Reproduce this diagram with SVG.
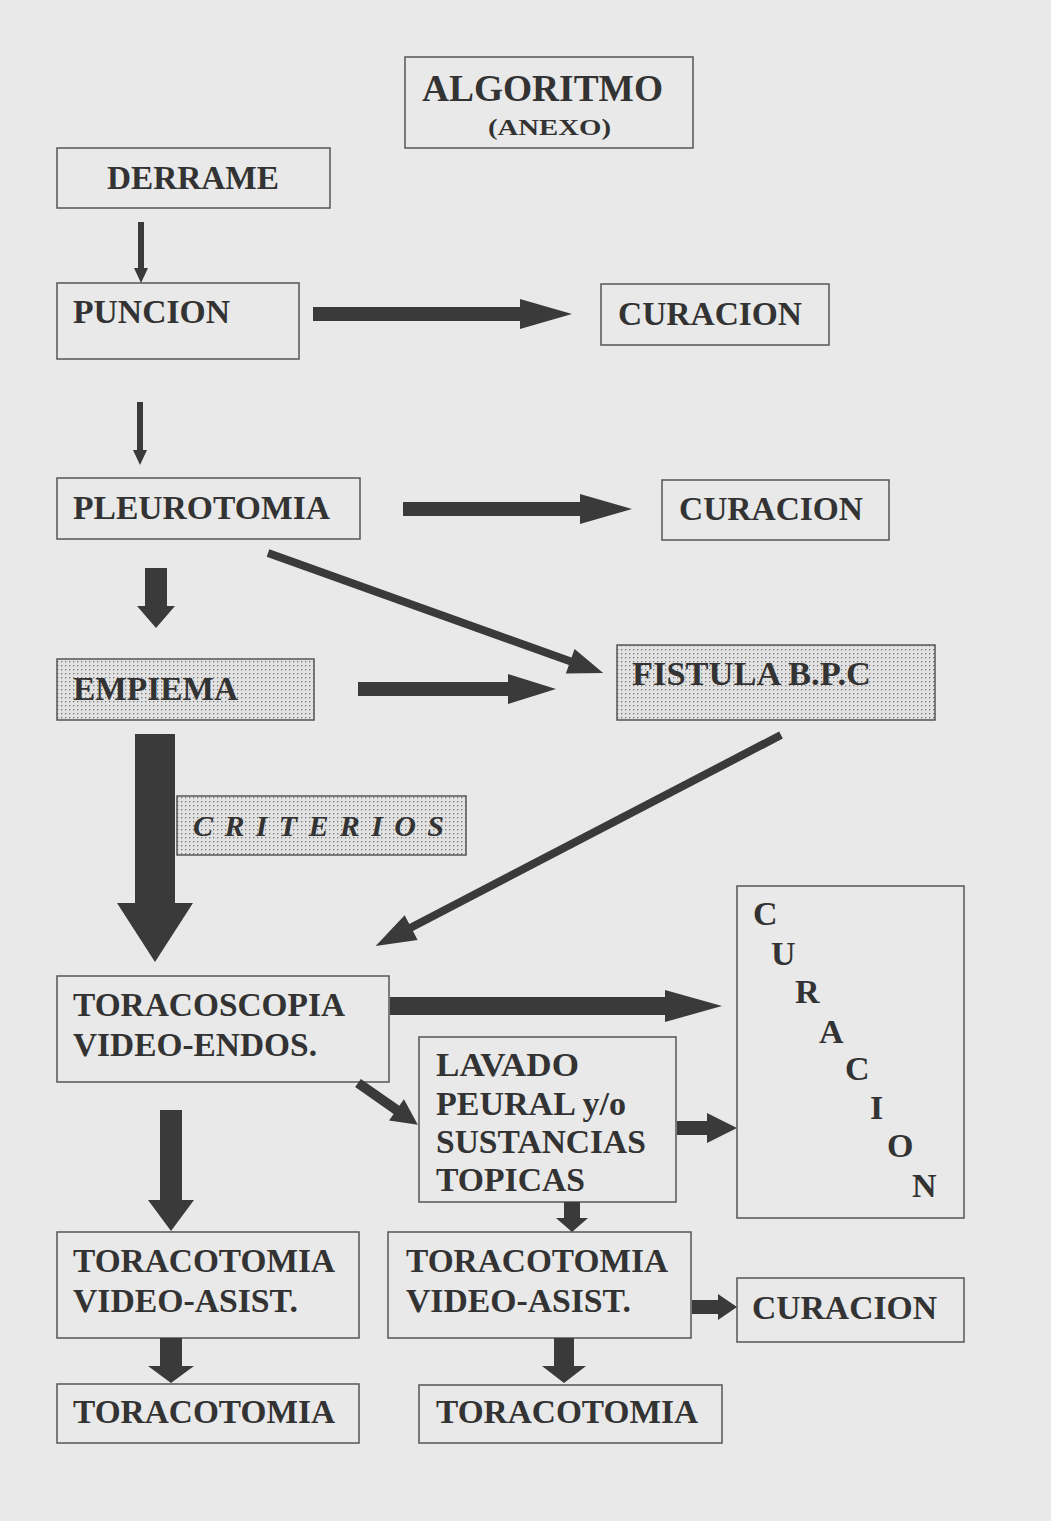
<svg xmlns="http://www.w3.org/2000/svg" width="1051" height="1521" viewBox="0 0 1051 1521">
<defs>
<pattern id="dots" width="4" height="4" patternUnits="userSpaceOnUse">
<rect width="4" height="4" fill="#e2e2e2"/>
<rect x="1" y="1" width="1.3" height="1.3" fill="#777"/>
</pattern>
<style>
.box{fill:none;stroke:#555;stroke-width:1.5}
.dot{fill:url(#dots);stroke:#555;stroke-width:1.5}
.t{font-family:"Liberation Serif","Times New Roman",serif;font-weight:bold;font-size:34px;fill:#333}
.ar{fill:#3a3a3a}
</style>
</defs>
<rect width="1051" height="1521" fill="#e9e9e9"/>

<g id="titulo"><rect class="box" x="405" y="57" width="288" height="91"/>
<text class="t" x="422" y="101" style="font-size:38px" textLength="241" lengthAdjust="spacingAndGlyphs">ALGORITMO</text>
<text class="t" x="488" y="135" style="font-size:24px" textLength="123" lengthAdjust="spacingAndGlyphs">(ANEXO)</text></g>

<g id="derrame"><rect class="box" x="57" y="148" width="273" height="60"/>
<text class="t" x="107" y="189" textLength="172" lengthAdjust="spacingAndGlyphs">DERRAME</text></g>

<g id="puncion"><rect class="box" x="57" y="283" width="242" height="76"/>
<text class="t" x="73" y="323" textLength="157" lengthAdjust="spacingAndGlyphs">PUNCION</text></g>

<g id="curacion1"><rect class="box" x="601" y="284" width="228" height="61"/>
<text class="t" x="618" y="325" textLength="184" lengthAdjust="spacingAndGlyphs">CURACION</text></g>

<g id="pleurotomia"><rect class="box" x="57" y="478" width="303" height="61"/>
<text class="t" x="73" y="519" textLength="257" lengthAdjust="spacingAndGlyphs">PLEUROTOMIA</text></g>

<g id="curacion2"><rect class="box" x="662" y="480" width="227" height="60"/>
<text class="t" x="679" y="520" textLength="184" lengthAdjust="spacingAndGlyphs">CURACION</text></g>

<g id="empiema"><rect class="dot" x="57" y="659" width="257" height="61"/>
<text class="t" x="73" y="700" textLength="165" lengthAdjust="spacingAndGlyphs">EMPIEMA</text></g>

<g id="fistula"><rect class="dot" x="617" y="645" width="318" height="75"/>
<text class="t" x="632" y="685" textLength="239" lengthAdjust="spacingAndGlyphs">FISTULA B.P.C</text></g>

<g id="criterios"><rect class="dot" x="177" y="796" width="289" height="59"/>
<text class="t" x="193" y="836" style="font-style:italic;font-size:30px" textLength="251" lengthAdjust="spacing">CRITERIOS</text></g>

<g id="curacion3"><rect class="box" x="737" y="886" width="227" height="332"/>
<text class="t" x="753" y="925">C</text>
<text class="t" x="771" y="965">U</text>
<text class="t" x="795" y="1003">R</text>
<text class="t" x="819" y="1043">A</text>
<text class="t" x="845" y="1080">C</text>
<text class="t" x="870" y="1119">I</text>
<text class="t" x="887" y="1157">O</text>
<text class="t" x="912" y="1197">N</text></g>

<g id="toracoscopia"><rect class="box" x="57" y="976" width="332" height="106"/>
<text class="t" x="73" y="1016" textLength="272" lengthAdjust="spacingAndGlyphs">TORACOSCOPIA</text>
<text class="t" x="73" y="1056" textLength="244" lengthAdjust="spacingAndGlyphs">VIDEO-ENDOS.</text></g>

<g id="lavado"><rect class="box" x="419" y="1037" width="257" height="165"/>
<text class="t" x="436" y="1076" textLength="143" lengthAdjust="spacingAndGlyphs">LAVADO</text>
<text class="t" x="436" y="1115" textLength="190" lengthAdjust="spacingAndGlyphs">PEURAL y/o</text>
<text class="t" x="436" y="1153" textLength="210" lengthAdjust="spacingAndGlyphs">SUSTANCIAS</text>
<text class="t" x="436" y="1191" textLength="149" lengthAdjust="spacingAndGlyphs">TOPICAS</text></g>

<g id="toracotomiaVA1"><rect class="box" x="57" y="1232" width="302" height="106"/>
<text class="t" x="73" y="1272" textLength="262" lengthAdjust="spacingAndGlyphs">TORACOTOMIA</text>
<text class="t" x="73" y="1312" textLength="225" lengthAdjust="spacingAndGlyphs">VIDEO-ASIST.</text></g>

<g id="toracotomiaVA2"><rect class="box" x="388" y="1232" width="303" height="106"/>
<text class="t" x="406" y="1272" textLength="262" lengthAdjust="spacingAndGlyphs">TORACOTOMIA</text>
<text class="t" x="406" y="1312" textLength="225" lengthAdjust="spacingAndGlyphs">VIDEO-ASIST.</text></g>

<g id="curacion4"><rect class="box" x="737" y="1278" width="227" height="64"/>
<text class="t" x="752" y="1319" textLength="185" lengthAdjust="spacingAndGlyphs">CURACION</text></g>

<g id="toracotomia1"><rect class="box" x="57" y="1384" width="302" height="59"/>
<text class="t" x="73" y="1423" textLength="262" lengthAdjust="spacingAndGlyphs">TORACOTOMIA</text></g>

<g id="toracotomia2"><rect class="box" x="419" y="1385" width="303" height="58"/>
<text class="t" x="436" y="1423" textLength="262" lengthAdjust="spacingAndGlyphs">TORACOTOMIA</text></g>

<g id="connectors" class="ar">
<polygon points="313,307 520,307 520,299 572,314 520,329 520,321 313,321"/>
<polygon points="403,502 580,502 580,494 632,509 580,524 580,516 403,516"/>
<polygon points="358,682 508,682 508,674 556,689 508,704 508,696 358,696"/>
<polygon points="390,997 665,997 665,990 722,1006 665,1022 665,1015 390,1015"/>
<polygon points="677,1121 707,1121 707,1113 737,1128 707,1143 707,1135 677,1135"/>
<polygon points="692,1300 718,1300 718,1294 737,1307 718,1320 718,1314 692,1314"/>

<polygon points="138,222 144,222 144,268 148,268 141,283 134,268 138,268"/>
<polygon points="137,402 143,402 143,450 147,450 140,465 133,450 137,450"/>
<polygon points="145,568 167,568 167,606 175,606 156,628 137,606 145,606"/>
<polygon points="135,734 175,734 175,903 193,903 155,962 117,903 135,903"/>
<polygon points="160,1110 182,1110 182,1200 194,1200 171,1231 148,1200 160,1200"/>
<polygon points="564,1202 580,1202 580,1218 588,1218 572,1232 556,1218 564,1218"/>
<polygon points="160,1338 182,1338 182,1366 194,1366 171,1383 148,1366 160,1366"/>
<polygon points="554,1338 574,1338 574,1366 586,1366 564,1383 542,1366 554,1366"/>

<polygon transform="translate(268,553) rotate(19.7)" points="0,-4 321,-4 321,-13 356,0 321,13 321,4 0,4"/>
<polygon transform="translate(781,735) rotate(152.5)" points="0,-4 417,-4 417,-14 457,0 417,14 417,4 0,4"/>
<polygon transform="translate(358,1083) rotate(35)" points="0,-5 47,-5 47,-13 73,0 47,13 47,5 0,5"/>
</g>
</svg>
